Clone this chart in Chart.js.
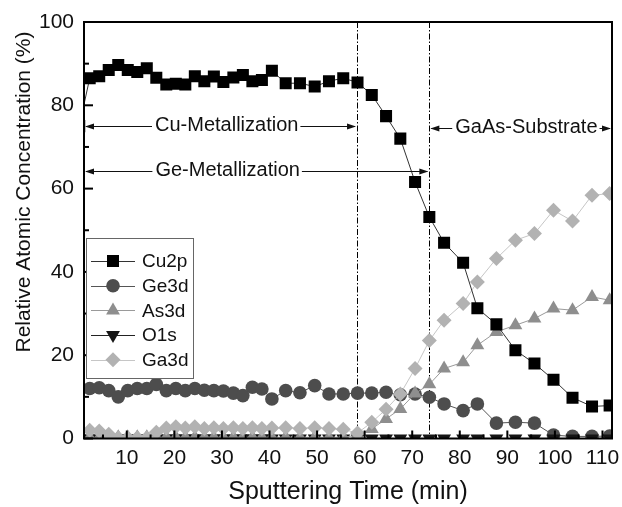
<!DOCTYPE html>
<html><head><meta charset="utf-8">
<script src="https://cdn.jsdelivr.net/npm/chart.js@4.4.0/dist/chart.umd.min.js"></script>
<style>html,body{margin:0;padding:0;background:#fff}#wrap{width:622px;height:507px}</style>
</head><body><div id="wrap"><canvas id="c" width="622" height="507"></canvas></div>
<script>
// ---- data ----
const times = [0, 2.2, 4.2, 6.2, 8.2, 10.2, 12.2, 14.2, 16.2, 18.3, 20.3, 22.3, 24.3, 26.3, 28.3, 30.3, 32.4, 34.4, 36.4, 38.4, 40.5, 43.4, 46.4, 49.5, 52.5, 55.5, 58.5, 61.5, 64.5, 67.5, 70.6, 73.6, 76.7, 80.7, 83.7, 87.7, 91.7, 95.7, 99.7, 103.7, 107.8, 111.5];
const cu2p = [75, 86.5, 87, 88.5, 89.7, 88.5, 88, 88.9, 86.6, 85, 85.2, 85, 87, 85.8, 86.9, 85.6, 86.7, 87.3, 85.8, 86.1, 88.3, 85.3, 85.3, 84.5, 85.8, 86.5, 85.5, 82.5, 77.4, 72, 61.6, 53.2, 47, 42.2, 31.3, 27.4, 21.2, 18, 14.1, 9.8, 7.7, 7.9];
const ge3d = [12, 12, 12.2, 11.5, 10, 11.5, 12, 12, 13, 11.5, 12, 11.5, 12, 11.6, 11.5, 11.4, 10.9, 10.3, 12.3, 11.9, 9.5, 11.5, 11, 12.7, 10.7, 10.7, 10.9, 10.9, 11.1, 10.5, 10.7, 9.9, 8.3, 6.7, 8.3, 3.7, 3.9, 3.7, 0.8, 0.5, 0.5, 0.6];
const as3d = [0.3, 0.3, 0.3, 0.3, 0.3, 0.3, 0.3, 0.3, 0.3, 0.3, 0.3, 0.3, 0.3, 0.3, 0.3, 0.3, 0.3, 0.3, 0.3, 0.3, 0.3, 0.3, 0.3, 0.3, 0.3, 0.3, 0.8, 2.3, 4.7, 7.1, 10.8, 13, 16.8, 18.3, 22.4, 25.6, 27.2, 28.8, 31.2, 30.8, 34, 33.2];
const o1s = [0, 0, 0, 0, 0, 0, 0, 0, 0, 0, 0, 0, 0, 0, 0, 0, 0, 0, 0, 0, 0, 0, 0, 0, 0, 0, 0, 0, 0, 0, 0, 0, 0, 0, 0, 0, 0, 0, 0, 0, 0, 0];
const ga3d = [2, 2, 1.8, 1, 0.2, 0.2, 0.2, 0.2, 1.5, 2.5, 2.8, 2.5, 2.8, 2.4, 2.6, 2.4, 2.6, 2.4, 2.6, 2.4, 2.5, 2.6, 2.4, 2.6, 2.4, 2.2, 1.3, 3.9, 7, 10.7, 16.8, 23.5, 28.4, 32.4, 37.6, 43.2, 47.6, 49.2, 54.8, 52.2, 58.4, 58.8];
const seriesNames = ['Cu2p', 'Ge3d', 'As3d', 'O1s', 'Ga3d'];
const xTicks = [10, 20, 30, 40, 50, 60, 70, 80, 90, 100, 110];
const yTicks = [0, 20, 40, 60, 80, 100];
const boundaryTimes = [58.4, 73.6];
const regionLabels = ['Cu-Metallization', 'Ge-Metallization', 'GaAs-Substrate'];
const regionLevels = [75, 64.3, 74.5];
const regionLabelAt = [31, 31.2, 94];
const xTitle = 'Sputtering Time (min)';
const yTitle = 'Relative Atomic Concentration (%)';

// ---- styles ----
const FONT = '"Liberation Sans", Arial, sans-serif';
const styles = [
  {point: 'rect', r: 8.5, rot: 0, fill: '#000000', line: '#333333', order: 0},
  {point: 'circle', r: 6.8, rot: 0, fill: '#4d4d4d', line: '#555555', order: 4},
  {point: 'triangle', r: 8, rot: 0, fill: '#8e8e8e', line: '#9a9a9a', order: 2},
  {point: 'triangle', r: 8, rot: 180, fill: '#151515', line: '#222222', order: 3},
  {point: 'rectRot', r: 7.5, rot: 0, fill: '#b2b2b2', line: '#c6c6c6', order: 1}
];
const seriesValues = [cu2p, ge3d, as3d, o1s, ga3d];

const datasets = seriesNames.map((name, i) => ({
  label: name,
  data: times.map((t, k) => ({x: t, y: seriesValues[i][k]})),
  borderColor: styles[i].line,
  backgroundColor: styles[i].fill,
  borderWidth: 1,
  pointStyle: styles[i].point,
  pointRadius: styles[i].r,
  pointRotation: styles[i].rot,
  pointBackgroundColor: styles[i].fill,
  pointBorderColor: styles[i].fill,
  pointBorderWidth: 0,
  tension: 0,
  order: styles[i].order
}));

const overlay = {
  id: 'overlay',
  beforeDatasetsDraw(chart) {
    const {ctx, chartArea: a, scales: {x}} = chart;
    ctx.save();
    ctx.strokeStyle = '#000'; ctx.lineWidth = 1; ctx.setLineDash([6, 2, 1.5, 2]);
    boundaryTimes.forEach(t => {
      const px = Math.round(x.getPixelForValue(t)) + 0.5;
      ctx.beginPath(); ctx.moveTo(px, a.top); ctx.lineTo(px, a.bottom); ctx.stroke();
    });
    ctx.restore();
  },
  afterDatasetsDraw(chart) {
    const {ctx, chartArea: a, scales: {x, y}} = chart;
    ctx.save();
    // frame
    ctx.strokeStyle = '#000'; ctx.lineWidth = 2;
    ctx.strokeRect(a.left, a.top, a.right - a.left, a.bottom - a.top);
    // inward ticks
    ctx.lineWidth = 2;
    for (let v = 0; v <= 100; v += 10) {
      const py = y.getPixelForValue(v);
      const len = v % 20 === 0 ? 9 : 5;
      ctx.beginPath(); ctx.moveTo(a.left, py); ctx.lineTo(a.left + len, py); ctx.stroke();
    }
    for (let v = 5; v <= x.max; v += 5) {
      const px = x.getPixelForValue(v);
      const len = v % 10 === 0 ? 8 : 4;
      ctx.beginPath(); ctx.moveTo(px, a.bottom); ctx.lineTo(px, a.bottom - len); ctx.stroke();
    }
    // region arrows
    const extents = [[x.min, boundaryTimes[0]], [x.min, boundaryTimes[1]], [boundaryTimes[1], x.max]];
    ctx.font = '20px ' + FONT;
    ctx.textBaseline = 'middle'; ctx.textAlign = 'center';
    regionLabels.forEach((lab, i) => {
      const x1 = x.getPixelForValue(extents[i][0]);
      const x2 = x.getPixelForValue(extents[i][1]);
      const py = Math.round(y.getPixelForValue(regionLevels[i])) + 0.5;
      const cx = x.getPixelForValue(regionLabelAt[i]);
      const w = ctx.measureText(lab).width;
      ctx.fillStyle = '#111';
      ctx.fillText(lab, cx, py - 1);
      ctx.strokeStyle = '#111'; ctx.lineWidth = 1;
      ctx.beginPath();
      ctx.moveTo(x1 + 2, py); ctx.lineTo(cx - w / 2 - 3, py);
      ctx.moveTo(cx + w / 2 + 2, py); ctx.lineTo(x2 - 2, py);
      ctx.stroke();
      ctx.beginPath();
      ctx.moveTo(x1 + 1, py); ctx.lineTo(x1 + 10, py - 3); ctx.lineTo(x1 + 10, py + 3); ctx.closePath();
      ctx.moveTo(x2 - 1, py); ctx.lineTo(x2 - 10, py - 3); ctx.lineTo(x2 - 10, py + 3); ctx.closePath();
      ctx.fill();
    });
    // legend
    const lx = a.left + 2, ly = y.getPixelForValue(100) + 216, lw = 107, lh = 140;
    ctx.fillStyle = '#fff'; ctx.fillRect(lx, ly, lw, lh);
    ctx.strokeStyle = '#666'; ctx.lineWidth = 1;
    ctx.strokeRect(Math.round(lx) + 0.5, Math.round(ly) + 0.5, lw, lh);
    ctx.font = '19px ' + FONT; ctx.textAlign = 'left'; ctx.textBaseline = 'middle';
    seriesNames.forEach((name, i) => {
      const iy = ly + 23 + i * 24.7;
      const st = styles[i];
      ctx.strokeStyle = st.line; ctx.lineWidth = 1;
      ctx.beginPath(); ctx.moveTo(lx + 5, Math.round(iy) + 0.5); ctx.lineTo(lx + 49, Math.round(iy) + 0.5); ctx.stroke();
      ctx.fillStyle = st.fill;
      Chart.helpers.drawPoint(ctx, {pointStyle: st.point, radius: st.r, rotation: st.rot, borderWidth: 0}, lx + 27, iy);
      ctx.fillStyle = '#111';
      ctx.fillText(name, lx + 56, iy + 1);
    });
    // y title
    ctx.save();
    ctx.translate(24, 192); ctx.rotate(-Math.PI / 2);
    ctx.font = '21px ' + FONT; ctx.textAlign = 'center'; ctx.textBaseline = 'middle';
    ctx.fillStyle = '#111';
    ctx.fillText(yTitle, 0, 0);
    ctx.restore();
    ctx.restore();
  }
};

new Chart(document.getElementById('c'), {
  type: 'line',
  data: {datasets},
  options: {
    responsive: false,
    animation: false,
    layout: {padding: 0},
    plugins: {legend: {display: false}, tooltip: {enabled: false}},
    scales: {
      x: {
        type: 'linear', min: 1, max: 112,
        afterBuildTicks: s => { s.ticks = xTicks.map(v => ({value: v})); },
        afterFit: s => { s.height = 68.5; s.paddingRight = 10; s.paddingLeft = 0; },
        grid: {display: false, drawTicks: false},
        border: {display: false},
        ticks: {font: {family: FONT, size: 21}, color: '#111', padding: 7},
        title: {display: true, text: xTitle, font: {family: FONT, size: 25}, color: '#111', padding: {top: 0, bottom: 0}}
      },
      y: {
        type: 'linear', min: 0, max: 100,
        afterBuildTicks: s => { s.ticks = yTicks.map(v => ({value: v})); },
        afterFit: s => { s.width = 84; s.paddingTop = 22; s.paddingBottom = 0; },
        grid: {display: false, drawTicks: false},
        border: {display: false},
        ticks: {font: {family: FONT, size: 21}, color: '#111', padding: 10}
      }
    }
  },
  plugins: [overlay]
});
</script>
</body></html>
